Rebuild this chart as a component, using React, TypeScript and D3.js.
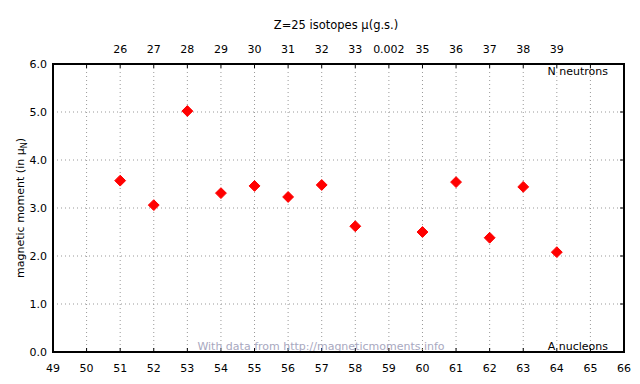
import React from "react";
import * as d3 from "d3";

const massNumbers = [51, 52, 53, 54, 55, 56, 57, 58, 60, 61, 62, 63, 64];
const moments = [3.57, 3.06, 5.02, 3.31, 3.46, 3.23, 3.48, 2.62, 2.50, 3.54, 2.38, 3.44, 2.08];
const bottomTicks = d3.range(49, 67);
const topTickPositions = [51, 52, 53, 54, 55, 56, 57, 58, 59, 60, 61, 62, 63, 64];
const topTickLabels = ["26", "27", "28", "29", "30", "31", "32", "33", "0.002", "35", "36", "37", "38", "39"];
const yTicks = [0, 1, 2, 3, 4, 5, 6];

const W = 640, H = 384;
const L = 53, R = 624, T = 64, B = 352;
const font = "'DejaVu Sans', Verdana, sans-serif";

export default function App() {
  const x = d3.scaleLinear().domain([49, 66]).range([L, R]);
  const y = d3.scaleLinear().domain([0, 6]).range([B, T]);
  const diamond = d3.symbol().type(d3.symbolDiamond2).size(75)();
  return (
    <svg width={W} height={H} style={{ position: "absolute", left: 0, top: 0, background: "#fff" }}>
      <rect x={0} y={0} width={W} height={H} fill="#fff" />
      {/* grid */}
      {bottomTicks.slice(1, -1).map((t) => (
        <line key={"gx" + t} x1={x(t)} x2={x(t)} y1={T} y2={B} stroke="#999" strokeWidth={1} strokeDasharray="1,3" />
      ))}
      {yTicks.slice(1, -1).map((t) => (
        <line key={"gy" + t} x1={L} x2={R} y1={y(t)} y2={y(t)} stroke="#999" strokeWidth={1} strokeDasharray="1,3" />
      ))}
      {/* ticks */}
      {bottomTicks.slice(1, -1).map((t) => (
        <g key={"tk" + t}>
          <line x1={x(t)} x2={x(t)} y1={B} y2={B - 4} stroke="#000" strokeWidth={1} />
          <line x1={x(t)} x2={x(t)} y1={T} y2={T + 4} stroke="#000" strokeWidth={1} />
        </g>
      ))}
      {yTicks.slice(1, -1).map((t) => (
        <line key={"ty" + t} x1={R} x2={R - 4} y1={y(t)} y2={y(t)} stroke="#000" strokeWidth={1} />
      ))}
      {/* annotations */}
      <text x={321} y={350} textAnchor="middle" fontFamily={font} fontSize={11} fill="#a8a8c0">With data from http://magneticmoments.info</text>
      {/* frame */}
      <rect x={L} y={T} width={R - L} height={B - T} fill="none" stroke="#000" strokeWidth={2} />
      {/* bottom labels */}
      {bottomTicks.map((t) => (
        <text key={"bl" + t} x={x(t)} y={372} textAnchor="middle" fontFamily={font} fontSize={11} fill="#000">{t}</text>
      ))}
      {/* top labels */}
      {topTickPositions.map((t, i) => (
        <text key={"tl" + t} x={x(t)} y={53} textAnchor="middle" fontFamily={font} fontSize={11} fill="#000">{topTickLabels[i]}</text>
      ))}
      {/* y labels */}
      {yTicks.map((t) => (
        <text key={"yl" + t} x={47} y={y(t) + 4} textAnchor="end" fontFamily={font} fontSize={11} fill="#000">{t.toFixed(1)}</text>
      ))}
      {/* title */}
      <text x={336} y={29} textAnchor="middle" fontFamily={font} fontSize={11.5} fill="#000">Z=25 isotopes μ(g.s.)</text>
      {/* y title */}
      <text transform={`translate(24,${(T + B) / 2}) rotate(-90)`} textAnchor="middle" fontFamily={font} fontSize={11} fill="#000">
        magnetic moment (in μ<tspan fontSize={8} dy={3}>N</tspan><tspan dy={-3}>)</tspan>
      </text>
      <text x={608} y={350} textAnchor="end" fontFamily={font} fontSize={11} fill="#000">A nucleons</text>
      <text x={608} y={75} textAnchor="end" fontFamily={font} fontSize={11} fill="#000">N neutrons</text>
      {/* points */}
      {massNumbers.map((a, i) => (
        <path key={"p" + a} d={diamond} transform={`translate(${x(a)},${y(moments[i])})`} fill="#ff0000" stroke="#ff0000" strokeWidth={1} />
      ))}
    </svg>
  );
}
